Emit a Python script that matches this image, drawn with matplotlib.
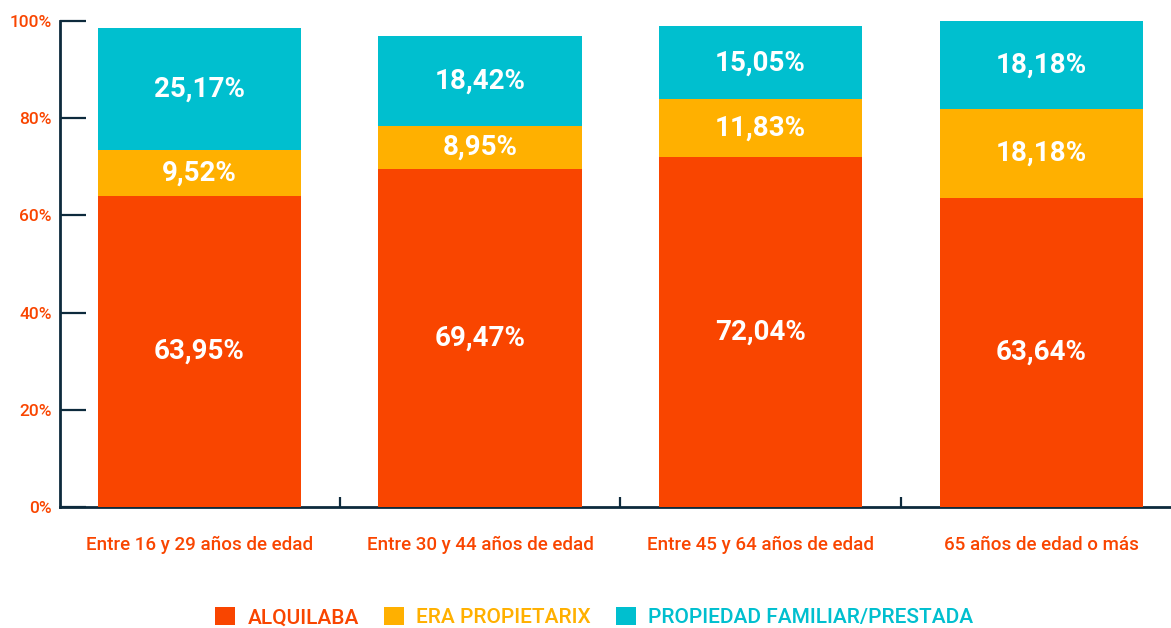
import matplotlib
matplotlib.use("Agg")
import matplotlib.pyplot as plt
from matplotlib.patches import Patch
import numpy as np

categories = ["Entre 16 y 29 años de edad", "Entre 30 y 44 años de edad",
              "Entre 45 y 64 años de edad", "65 años de edad o más"]
alquilaba = [63.95, 69.47, 72.04, 63.64]
era_propietarix = [9.52, 8.95, 11.83, 18.18]
propiedad_familiar = [25.17, 18.42, 15.05, 18.18]
series_names = ["ALQUILABA", "ERA PROPIETARIX", "PROPIEDAD FAMILIAR/PRESTADA"]
y_ticks = [0, 20, 40, 60, 80, 100]

colors = ["#F94500", "#FFB000", "#00BFCF"]
axis_color = "#0D2A3C"
font = "Roboto"

W, H = 1171, 628
fig = plt.figure(figsize=(W / 100, H / 100), dpi=100)
ax = fig.add_axes([60 / W, (H - 507) / H, (W - 60) / W, (507 - 21) / H])

x = np.arange(len(categories))
width = 0.724
bottom = np.zeros(len(categories))
for vals, col in zip([alquilaba, era_propietarix, propiedad_familiar], colors):
    vals = np.array(vals)
    ax.bar(x, vals, width, bottom=bottom, color=col, zorder=2)
    for xi, b, v in zip(x, bottom, vals):
        ax.text(xi, b + v / 2, f"{v:.2f}%".replace(".", ","), ha="center", va="center",
                color="white", fontsize=20, fontweight="bold", family=font, zorder=3)
    bottom += vals

ax.set_xlim(-0.497, 3.463)
ax.set_ylim(0, 100)

for side in ["top", "right"]:
    ax.spines[side].set_visible(False)
for side in ["left", "bottom"]:
    ax.spines[side].set_color(axis_color)
    ax.spines[side].set_linewidth(2)
    ax.spines[side].set_zorder(1)

ax.set_yticks(y_ticks)
ax.set_yticklabels([f"{t}%" for t in y_ticks])
ax.tick_params(axis="y", direction="in", length=19, width=1.6, color=axis_color,
               labelcolor=colors[0], labelsize=12.5, pad=6)
ax.set_xticks(x)
ax.set_xticklabels(categories)
ax.tick_params(axis="x", which="major", length=0, labelcolor=colors[0],
               labelsize=13.5, pad=21)
ax.set_xticks([0.5, 1.5, 2.5], minor=True)
ax.tick_params(axis="x", which="minor", direction="in", length=7, width=1.6,
               color=axis_color)
for lbl in ax.get_xticklabels() + ax.get_yticklabels():
    lbl.set_family(font)
    lbl.set_fontweight("medium")

handles = [Patch(facecolor=c, edgecolor="none") for c in colors]
fig.legend(handles, series_names, loc="center", bbox_to_anchor=(594 / W, 1 - 617 / H),
           ncol=3, frameon=False, labelcolor=colors, handlelength=0.96, handleheight=1.0,
           handletextpad=0.58, columnspacing=1.2, borderpad=0,
           prop={"family": font, "size": 15, "weight": "medium"})

fig.savefig("out.png", dpi=100)
